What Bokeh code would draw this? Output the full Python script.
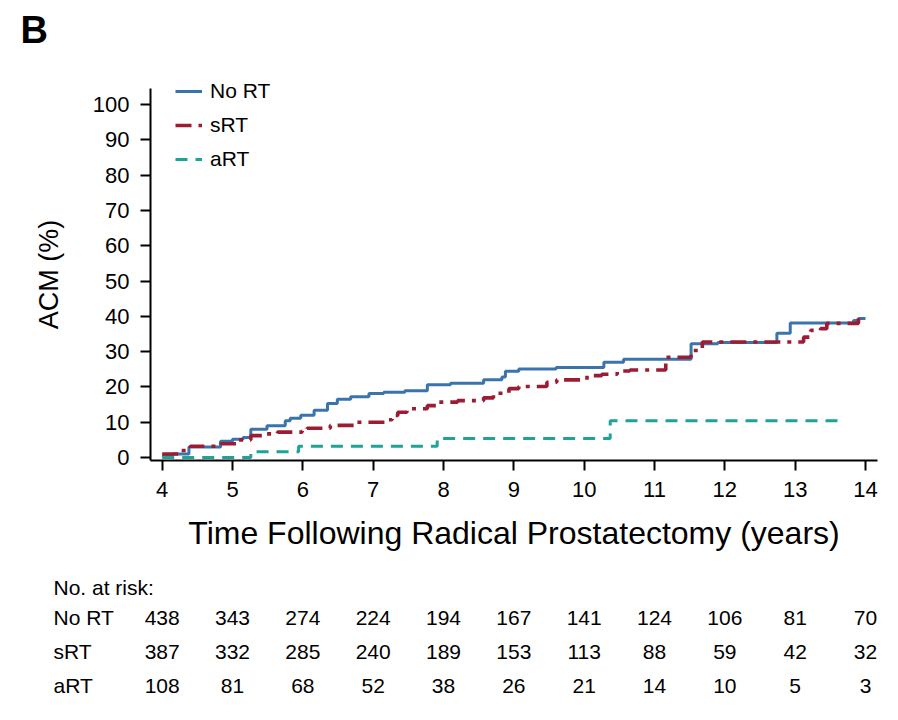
from bokeh.plotting import figure
from bokeh.models import Range1d, FixedTicker, Legend, LegendItem, LinearAxis
from bokeh.core.properties import value
from bokeh.embed import file_html
from bokeh.resources import INLINE

# Cumulative all-cause mortality (%) step curves, years after prostatectomy
no_rt_t = [4.00, 4.15, 4.38, 4.83, 5.00, 5.15, 5.26, 5.49, 5.75, 5.82, 5.97, 6.16,
           6.35, 6.49, 6.68, 6.94, 7.15, 7.45, 7.77, 8.10, 8.57, 8.83, 8.88, 9.07,
           9.60, 10.28, 10.56, 11.52, 11.90, 12.74, 12.93, 13.83, 13.90, 14.00]
no_rt_v = [0.6, 1.0, 3.0, 4.6, 5.2, 5.7, 8.0, 9.0, 10.4, 11.1, 12.0, 13.4,
           15.3, 16.5, 17.2, 18.1, 18.5, 18.9, 20.6, 21.0, 22.0, 22.8, 24.4, 25.1,
           25.5, 27.0, 27.8, 32.2, 32.6, 35.2, 38.1, 38.8, 39.4, 39.4]

srt_t = [4.00, 4.26, 4.40, 4.83, 5.07, 5.26, 5.49, 5.64, 5.99, 6.06, 6.39, 6.77,
         7.20, 7.27, 7.35, 7.48, 7.77, 7.91, 8.20, 8.57, 8.71, 8.93, 9.07, 9.47,
         9.61, 10.04, 10.25, 10.47, 10.65, 11.16, 11.52, 11.68, 13.12, 13.22,
         13.36, 13.45, 13.90, 13.95]
srt_v = [1.0, 2.0, 3.2, 3.9, 5.0, 6.2, 6.7, 7.2, 7.5, 8.3, 9.1, 10.0,
         10.7, 11.9, 12.8, 13.8, 14.7, 15.7, 16.1, 16.9, 18.2, 19.5, 20.1, 21.3,
         22.0, 23.2, 23.6, 24.5, 24.8, 28.4, 30.3, 32.7, 34.1, 36.0,
         36.5, 38.0, 39.8, 39.8]

art_t = [4.00, 5.26, 5.94, 7.91, 10.37, 13.67]
art_v = [0.0, 1.6, 3.2, 5.4, 10.4, 10.4]

# Number at risk table
risk_years = [4, 5, 6, 7, 8, 9, 10, 11, 12, 13, 14]
risk_groups = ["No RT", "sRT", "aRT"]
risk_no_rt = [438, 343, 274, 224, 194, 167, 141, 124, 106, 81, 70]
risk_srt = [387, 332, 285, 240, 189, 153, 113, 88, 59, 42, 32]
risk_art = [108, 81, 68, 52, 38, 26, 21, 14, 10, 5, 3]

x_ticks = [4, 5, 6, 7, 8, 9, 10, 11, 12, 13, 14]
y_ticks = [0, 10, 20, 30, 40, 50, 60, 70, 80, 90, 100]

BLUE = "#3a74ab"
RED = "#9c1c33"
TEAL = "#1fa398"
SANS = "Liberation Sans"

# Canvas geometry: the frame fills the page; axes sit at fixed positions
W, H = 898, 720
PX_PER_YEAR = 70.33
PX_PER_PCT = 3.53
ORIGIN_PX = (161.7, 457.0)          # pixel position of (4 years, 0 %)


def xd(px):
    return 4 + (px - ORIGIN_PX[0]) / PX_PER_YEAR


def yd(py):
    return (ORIGIN_PX[1] - py) / PX_PER_PCT


X_AXIS = (xd(150), xd(877))         # extent of the x axis line
Y_AXIS = (yd(460), yd(88))          # extent of the y axis line

p = figure(width=W, height=H, output_backend="svg", toolbar_location=None,
           x_range=Range1d(xd(0), xd(W)), y_range=Range1d(yd(H), yd(0)),
           x_axis_location=None, y_axis_location=None)
p.frame_width = W
p.frame_height = H
p.min_border = 0
p.outline_line_color = None
p.xgrid.visible = False
p.ygrid.visible = False

xaxis = LinearAxis(fixed_location=Y_AXIS[0], bounds=X_AXIS,
                   ticker=FixedTicker(ticks=x_ticks),
                   axis_label="Time Following Radical Prostatectomy (years)")
yaxis = LinearAxis(fixed_location=X_AXIS[0], bounds=Y_AXIS,
                   ticker=FixedTicker(ticks=y_ticks), axis_label="ACM (%)")
for ax in (xaxis, yaxis):
    ax.axis_line_width = 2
    ax.axis_line_color = "black"
    ax.major_tick_line_width = 2
    ax.major_tick_line_color = "black"
    ax.major_tick_out = 10
    ax.major_tick_in = 0
    ax.minor_tick_line_color = None
    ax.major_label_text_font = SANS
    ax.major_label_text_font_size = "22px"
    ax.major_label_text_color = "black"
    ax.major_label_standoff = 11
    ax.axis_label_text_font = SANS
    ax.axis_label_text_font_style = "normal"
    ax.axis_label_text_color = "black"
xaxis.axis_label_text_font_size = "32px"
xaxis.axis_label_standoff = 15
yaxis.axis_label_text_font_size = "27px"
yaxis.axis_label_standoff = 26
p.add_layout(xaxis, "below")
p.add_layout(yaxis, "left")

r_no = p.step(no_rt_t, no_rt_v, mode="after", line_color=BLUE, line_width=3)
r_s = p.step(srt_t, srt_v, mode="after", line_color=RED, line_width=3.6,
             line_dash="16 7 4 7")
r_a = p.step(art_t, art_v, mode="after", line_color=TEAL, line_width=3,
             line_dash="12 8")

legend = Legend(items=[LegendItem(label="No RT", renderers=[r_no]),
                       LegendItem(label="sRT", renderers=[r_s]),
                       LegendItem(label="aRT", renderers=[r_a])],
                location=(175, H - 171), padding=0, margin=0, spacing=10,
                glyph_width=27, glyph_height=20, label_standoff=8,
                label_text_font=SANS, label_text_font_size="21px",
                label_text_color="black", border_line_color=None,
                background_fill_alpha=0)
p.add_layout(legend, "center")

# Panel letter
p.text(x=[xd(20)], y=[yd(29)], text=["B"], text_font=value(SANS),
       text_font_size="38px", text_font_style="bold", text_color="black",
       text_baseline="middle", text_align="left")

# Number-at-risk table below the axis
FS = "21px"
label_x = xd(53)
header_y = yd(587)
row_y = [yd(617), yd(651), yd(685)]
p.text(x=[label_x], y=[header_y], text=["No. at risk:"], text_font=value(SANS),
       text_font_size=FS, text_baseline="middle", text_align="left",
       text_color="black")
p.text(x=[label_x] * 3, y=row_y, text=risk_groups, text_font=value(SANS),
       text_font_size=FS, text_baseline="middle", text_align="left",
       text_color="black")
for counts, yy in zip([risk_no_rt, risk_srt, risk_art], row_y):
    p.text(x=risk_years, y=[yy] * len(risk_years), text=[str(c) for c in counts],
           text_font=value(SANS), text_font_size=FS, text_baseline="middle",
           text_align="center", text_color="black")

open("out.html", "w").write(file_html(p, INLINE))
